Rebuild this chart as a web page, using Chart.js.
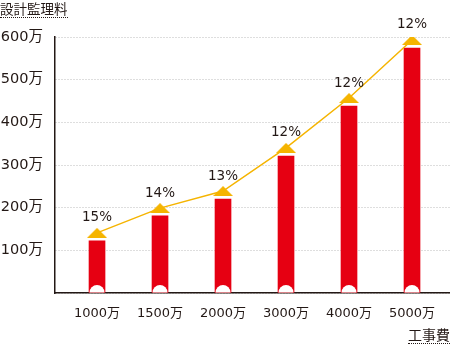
<!DOCTYPE html>
<html>
<head>
<meta charset="utf-8">
<script src="https://cdn.jsdelivr.net/npm/chart.js@4/dist/chart.umd.min.js"></script>
<style>
html, body { margin: 0; padding: 0; background: #fff; }
#wrap { position: relative; width: 450px; height: 345px; }
.ttl {
    position: absolute;
    font-family: "Noto Sans CJK JP", sans-serif;
    color: #231815;
    line-height: 16px;
    border-bottom: 1px dotted #231815;
    padding-bottom: 1px;
}
</style>
</head>
<body>
<div id="wrap">
    <canvas id="feeChart" width="450" height="345"></canvas>
    <div class="ttl" style="left:0; top:0; font-size:13.5px;">設計監理料</div>
    <div class="ttl" style="right:0; top:326px; font-size:14px;">工事費</div>
</div>
<script>
// Chart data
const costLabels = ['1000万', '1500万', '2000万', '3000万', '4000万', '5000万'];
const feeValues = [122, 181, 220, 321, 438, 574];
const markerValues = [141, 199, 239, 340, 457, 593];
const rateLabels = ['15%', '14%', '13%', '12%', '12%', '12%'];

const RED = '#e60012';
const YELLOW = '#f5b400';
const INK = '#231815';
const FONT = '"DejaVu Sans", "Noto Sans CJK JP", sans-serif';

// flat triangle marker
const tri = document.createElement('canvas');
tri.width = 20;
tri.height = 10;
const tctx = tri.getContext('2d');
tctx.fillStyle = YELLOW;
tctx.beginPath();
tctx.moveTo(0, 10);
tctx.lineTo(10, 0);
tctx.lineTo(20, 10);
tctx.closePath();
tctx.fill();

// white half circles at bar feet + rate labels
const decorations = {
    id: 'decorations',
    afterDatasetsDraw(chart) {
        const ctx = chart.ctx;
        ctx.save();
        ctx.fillStyle = '#fff';
        chart.getDatasetMeta(1).data.forEach(bar => {
            ctx.beginPath();
            ctx.arc(bar.x, bar.base, 7.5, Math.PI, 2 * Math.PI);
            ctx.fill();
        });
        ctx.fillStyle = INK;
        ctx.font = '13.5px ' + FONT;
        ctx.textAlign = 'center';
        ctx.textBaseline = 'middle';
        chart.getDatasetMeta(0).data.forEach((pt, i) => {
            ctx.fillText(rateLabels[i], pt.x, pt.y - 15);
        });
        ctx.restore();
    }
};

const ctx = document.getElementById('feeChart').getContext('2d');
new Chart(ctx, {
    data: {
        datasets: [
            {
                type: 'line',
                data: markerValues.map((v, i) => ({ x: i, y: v })),
                borderColor: YELLOW,
                borderWidth: 1.5,
                pointStyle: tri,
                order: 0
            },
            {
                type: 'bar',
                data: feeValues.map((v, i) => ({ x: i, y: v })),
                backgroundColor: RED,
                barThickness: 16,
                order: 1
            }
        ]
    },
    options: {
        responsive: false,
        animation: false,
        layout: { autoPadding: false, padding: { top: 37, right: 0, left: 0, bottom: 0 } },
        plugins: { legend: { display: false }, tooltip: { enabled: false } },
        scales: {
            x: {
                type: 'linear',
                offset: false,
                min: -0.667,
                max: 5.603,
                z: 1,
                grid: { display: false },
                border: { color: INK, width: 1.5 },
                afterBuildTicks: s => { s.ticks = costLabels.map((_, i) => ({ value: i })); },
                afterFit: s => { s.height = 52; s.paddingLeft = 0; s.paddingRight = 0; },
                ticks: {
                    autoSkip: false,
                    maxRotation: 0,
                    padding: 5,
                    color: INK,
                    font: { family: FONT, size: 13 },
                    callback: v => costLabels[v]
                }
            },
            y: {
                min: 0,
                max: 600,
                grid: { color: '#bdbdbd', lineWidth: 1, drawTicks: false, borderDash: [1, 2] },
                border: { color: INK, width: 1.5, dash: [1, 2] },
                afterFit: s => { s.width = 55; },
                ticks: {
                    stepSize: 100,
                    padding: 12,
                    color: INK,
                    font: { family: FONT, size: 14.5 },
                    callback: v => v ? v + '万' : ''
                }
            }
        }
    },
    plugins: [decorations]
});
</script>
</body>
</html>
